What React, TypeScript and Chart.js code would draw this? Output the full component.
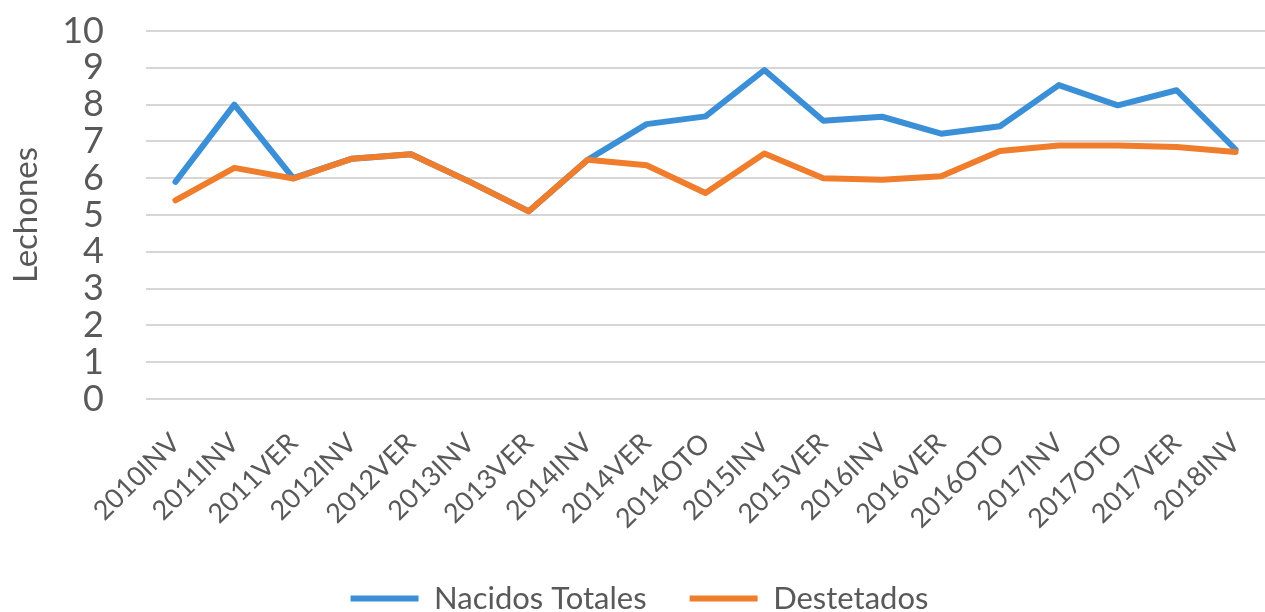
import React, { useEffect, useRef } from "react";
import { Chart, registerables } from "chart.js";

Chart.register(...registerables);

const categories = [
  "2010INV", "2011INV", "2011VER", "2012INV", "2012VER", "2013INV", "2013VER",
  "2014INV", "2014VER", "2014OTO", "2015INV", "2015VER", "2016INV", "2016VER",
  "2016OTO", "2017INV", "2017OTO", "2017VER", "2018INV",
];
const nacidosTotales = [
  5.9, 8.0, 6.0, 6.53, 6.65, 5.9, 5.1, 6.5, 7.47, 7.68, 8.94, 7.56, 7.67, 7.21,
  7.41, 8.53, 7.98, 8.39, 6.78,
];
const destetados = [
  5.4, 6.28, 5.99, 6.53, 6.65, 5.9, 5.1, 6.5, 6.35, 5.6, 6.67, 6.0, 5.96, 6.05,
  6.74, 6.89, 6.89, 6.85, 6.71,
];
const yTicks = [0, 1, 2, 3, 4, 5, 6, 7, 8, 9, 10];

const BLUE = "#3b8fd6";
const ORANGE = "#f07d2c";
const TEXT = "#595959";
const FONT = "Lato, 'Open Sans', sans-serif";

const legendShift = {
  id: "legendShift",
  afterLayout(chart: any) {
    const lg = chart.legend;
    if (!lg) return;
    lg.left += 7;
    lg.right += 7;
    lg.top += 1;
    lg.bottom += 1;
  },
};

export default function App() {
  const ref = useRef<HTMLCanvasElement | null>(null);

  useEffect(() => {
    document.body.style.margin = "0";
    if (!ref.current) return;
    const chart = new Chart(ref.current, {
      type: "line",
      data: {
        labels: categories,
        datasets: [
          {
            label: "Nacidos Totales",
            data: nacidosTotales,
            borderColor: BLUE,
            backgroundColor: BLUE,
            borderWidth: 6,
            pointRadius: 0,
            tension: 0,
            borderJoinStyle: "round",
            borderCapStyle: "round",
            order: 1,
          },
          {
            label: "Destetados",
            data: destetados,
            borderColor: ORANGE,
            backgroundColor: ORANGE,
            borderWidth: 6,
            pointRadius: 0,
            tension: 0,
            borderJoinStyle: "round",
            borderCapStyle: "round",
            order: 0,
          },
        ],
      },
      plugins: [legendShift],
      options: {
        animation: false,
        responsive: false,
        maintainAspectRatio: false,
        layout: { padding: { top: 31, right: 0, left: 0, bottom: -11 } },
        plugins: {
          tooltip: { enabled: false },
          legend: {
            position: "bottom",
            labels: {
              sort: (a: any, b: any) => a.datasetIndex - b.datasetIndex,
              generateLabels: (c: any) =>
                (Chart.defaults.plugins.legend.labels as any)
                  .generateLabels(c)
                  .map((l: any) => ({ ...l, lineWidth: 0 })),
              boxWidth: 68,
              boxHeight: 6,
              padding: 43,
              color: TEXT,
              font: { family: FONT, size: 31 },
            },
          },
        },
        scales: {
          x: {
            offset: true,
            grid: { display: false },
            border: { display: false },
            ticks: {
              autoSkip: false,
              maxRotation: 45,
              minRotation: 45,
              padding: 20,
              color: TEXT,
              font: { family: FONT, size: 27 },
            },
            afterFit: (scale: any) => {
              scale.height = 140;
              scale.paddingLeft = 0;
              scale.paddingRight = 0;
            },
          },
          y: {
            min: 0,
            max: 10,
            afterBuildTicks: (scale: any) => {
              scale.ticks = yTicks.map((v) => ({ value: v }));
            },
            grid: { color: "#d9d5d5", lineWidth: 2, drawTicks: false },
            border: { display: false },
            ticks: {
              autoSkip: false,
              stepSize: 1,
              padding: 42,
              color: TEXT,
              font: { family: FONT, size: 36 },
            },
            title: {
              display: true,
              text: "Lechones",
              color: TEXT,
              font: { family: FONT, size: 33 },
              padding: { top: 7, bottom: 0 },
            },
            afterFit: (scale: any) => {
              scale.width = 146;
              scale.paddingTop = 0;
              scale.paddingBottom = 0;
            },
          },
        },
      },
    });
    return () => chart.destroy();
  }, []);

  return (
    <div style={{ width: 1265, height: 612 }}>
      <canvas ref={ref} width={1265} height={612} style={{ display: "block" }} />
    </div>
  );
}
